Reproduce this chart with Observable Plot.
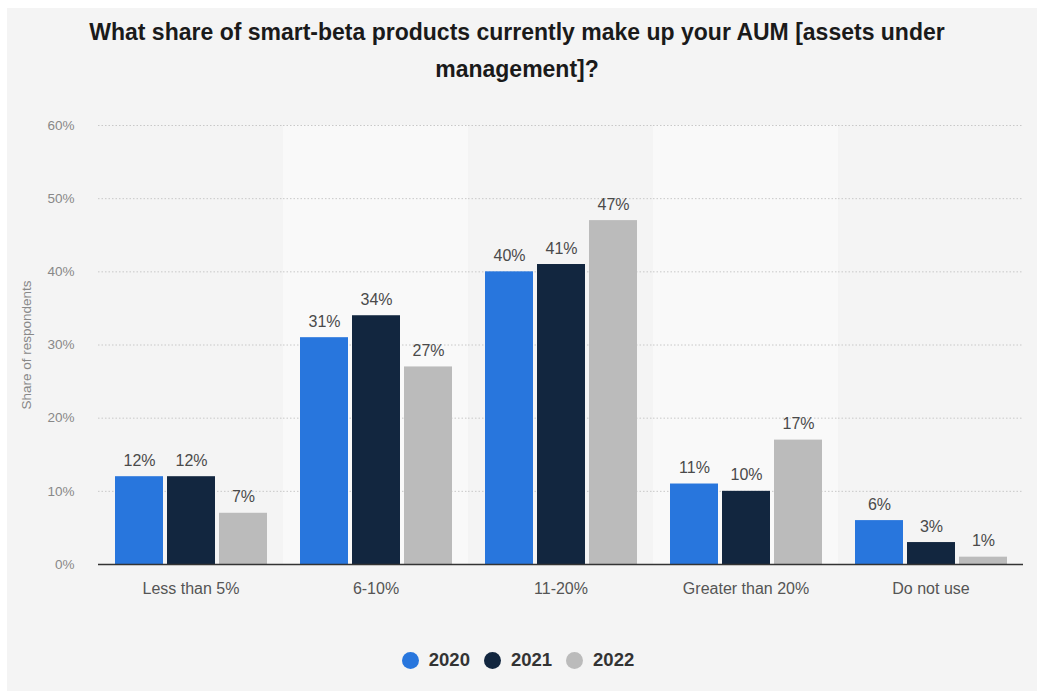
<!DOCTYPE html>
<html>
<head>
<meta charset="utf-8">
<script src="https://cdn.jsdelivr.net/npm/d3@7"></script>
<script src="https://cdn.jsdelivr.net/npm/@observablehq/plot@0.6"></script>
<style>
  html, body { margin: 0; padding: 0; background: #ffffff; }
  #panel { position: absolute; left: 7px; top: 8px; width: 1030px; height: 683px; background: #f4f4f4; font-family: "Liberation Sans", Arial, Helvetica, sans-serif; }
  #title { position: absolute; left: 0; width: 1020px; top: 6px; text-align: center; font-weight: bold; font-size: 23px; line-height: 37px; color: #1a1a1a; }
  #chart { position: absolute; left: 0; top: 92px; }
  #legend { position: absolute; left: 0; width: 1022px; top: 640px; height: 24px; display: flex; justify-content: center; align-items: center; font-weight: bold; font-size: 18.5px; color: #333; }
  .item { display: flex; align-items: center; margin: 0 7px; }
  .dot { width: 17px; height: 17px; border-radius: 50%; margin-right: 10px; }
</style>
</head>
<body>
<div id="panel">
  <div id="title">What share of smart-beta products currently make up your AUM [assets under<br>management]?</div>
  <div id="chart"></div>
  <div id="legend"></div>
</div>
<script>
const categories = ["Less than 5%", "6-10%", "11-20%", "Greater than 20%", "Do not use"];
const years = ["2020", "2021", "2022"];
const values2020 = [12, 31, 40, 11, 6];
const values2021 = [12, 34, 41, 10, 3];
const values2022 = [7, 27, 47, 17, 1];
const colors = ["#2876dd", "#12263f", "#bbbbbb"];
const yTicks = [0, 10, 20, 30, 40, 50, 60];

const series = [values2020, values2021, values2022];
const data = [];
categories.forEach((c, i) => {
  years.forEach((y, j) => data.push({category: c, year: y, value: series[j][i]}));
});
const shaded = categories.filter((d, i) => i % 2 === 1);

const chart = Plot.plot({
  width: 1030,
  height: 510,
  marginLeft: 90,
  marginRight: 13,
  marginTop: 25,
  marginBottom: 46,
  style: {fontFamily: "'Liberation Sans', Arial, Helvetica, sans-serif", background: "transparent", fontSize: "13px"},
  fx: {domain: categories, padding: 0, label: null},
  x: {domain: years, paddingInner: 0.077, paddingOuter: 0.317, axis: null},
  y: {domain: [0, 60], label: null},
  color: {domain: years, range: colors},
  marks: [
    Plot.barY(shaded, {fx: d => d, y1: 0, y2: 60, fill: "#f9f9f9"}),
    Plot.ruleY(yTicks.filter(d => d > 0), {stroke: "#c8c8c8", strokeDasharray: "1.5,2", strokeWidth: 1}),
    Plot.axisY({ticks: yTicks, tickFormat: d => d + "%", tickSize: 0, tickPadding: 24, fill: "#888", fontSize: 13.5,
      label: "Share of respondents", labelAnchor: "center", labelArrow: "none", labelOffset: 77}),
    Plot.axisFx({anchor: "bottom", tickSize: 0, tickPadding: 18, fontSize: 16, fill: "#555", label: null}),
    Plot.barY(data, {fx: "category", x: "year", y: "value", fill: "year"}),
    Plot.ruleY([0], {stroke: "#333", strokeWidth: 1.5}),
    Plot.text(data, {fx: "category", x: "year", y: "value", text: d => d.value + "%", lineAnchor: "bottom", dy: -11, fontSize: 16, fill: "#4a4a4a"})
  ]
});
document.getElementById("chart").appendChild(chart);

const legend = document.getElementById("legend");
years.forEach((y, i) => {
  const item = document.createElement("div");
  item.className = "item";
  const dot = document.createElement("span");
  dot.className = "dot";
  dot.style.background = colors[i];
  const label = document.createElement("span");
  label.textContent = y;
  item.appendChild(dot);
  item.appendChild(label);
  legend.appendChild(item);
});
</script>
</body>
</html>
